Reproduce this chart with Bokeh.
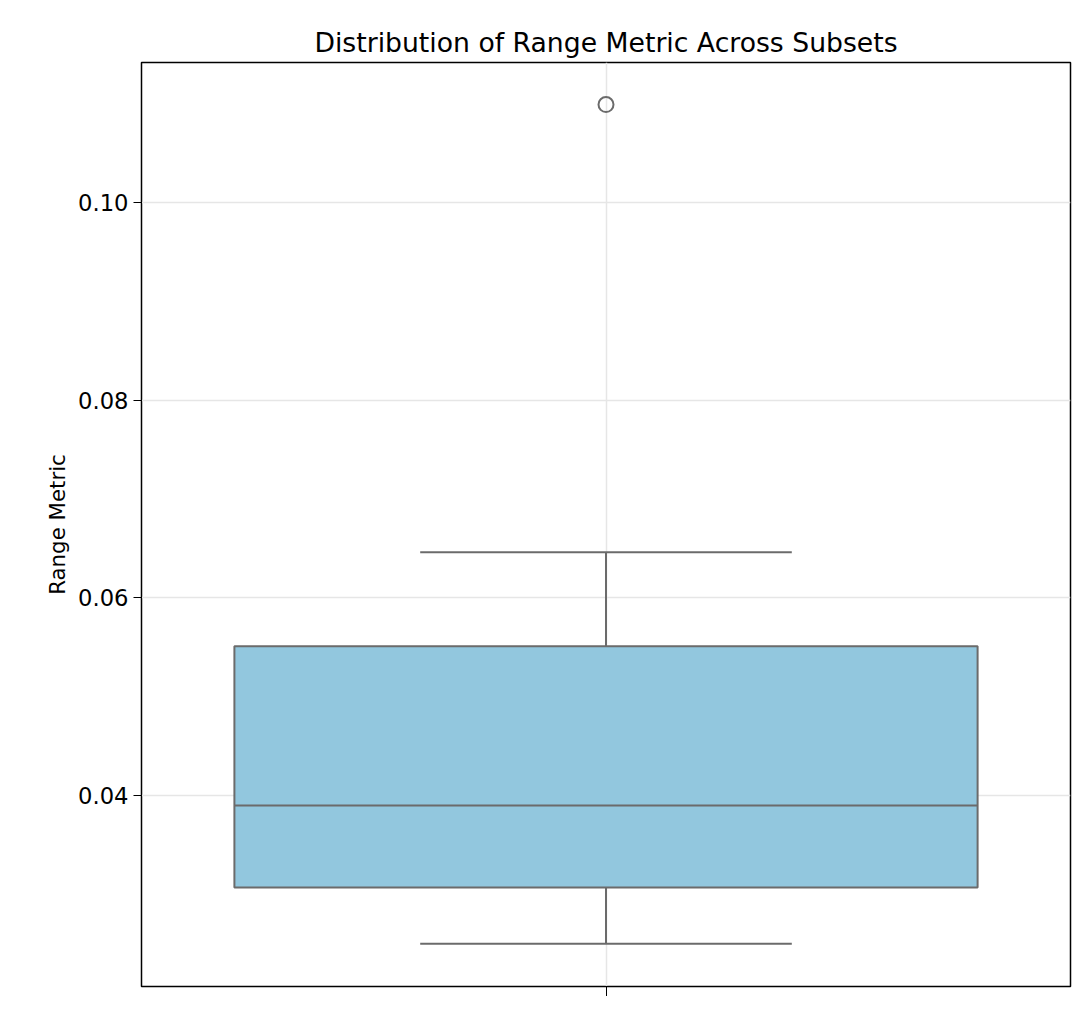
from bokeh.plotting import figure
from bokeh.embed import file_html
from bokeh.resources import INLINE
from bokeh.models import FixedTicker, Range1d

categories = [0]
q1 = [0.0307]
median = [0.0390]
q3 = [0.0551]
whisker_low = [0.0250]
whisker_high = [0.0646]
outliers = [0.1099]

p = figure(width=1083, height=996, output_backend="svg", toolbar_location=None,
           x_range=Range1d(-0.5, 0.5), y_range=Range1d(0.02068, 0.11416),
           min_border_left=141, min_border_top=62, min_border_right=13, min_border_bottom=10)
p.title.text = "Distribution of Range Metric Across Subsets"
p.title.align = "center"
p.title.text_font = "DejaVu Sans"
p.title.text_font_size = "20pt"
p.title.text_font_style = "normal"
p.title.text_color = "black"

c = categories[0]
p.segment(x0=[c]*2, y0=[whisker_low[0], q3[0]], x1=[c]*2, y1=[q1[0], whisker_high[0]], line_color="#6b6b6b", line_width=2)
p.segment(x0=[c-0.2]*2, y0=[whisker_low[0], whisker_high[0]], x1=[c+0.2]*2, y1=[whisker_low[0], whisker_high[0]], line_color="#6b6b6b", line_width=2)
p.quad(left=[c-0.4], right=[c+0.4], bottom=q1, top=q3, fill_color="#92c7de", line_color="#6b6b6b", line_width=2)
p.segment(x0=[c-0.4], y0=median, x1=[c+0.4], y1=median, line_color="#6b6b6b", line_width=2)
p.scatter(x=[c]*len(outliers), y=outliers, size=15, fill_color=None, line_color="#6b6b6b", line_width=2)

p.xaxis.ticker = FixedTicker(ticks=[0])
p.xaxis.major_label_overrides = {0: ""}
p.xaxis.major_label_text_font_size = "1pt"
p.xaxis.minor_tick_line_color = None
p.xaxis.major_tick_out = 10
p.xaxis.major_tick_in = 0
p.yaxis.ticker = FixedTicker(ticks=[0.04, 0.06, 0.08, 0.10])
p.yaxis.major_label_overrides = {0.04: "0.04", 0.06: "0.06", 0.08: "0.08", 0.10: "0.10"}
p.yaxis.minor_tick_line_color = None
p.yaxis.major_tick_out = 8
p.yaxis.major_tick_in = 0
p.yaxis.axis_label = "Range Metric"
p.yaxis.axis_label_text_font_style = "normal"
p.yaxis.axis_label_text_font_size = "16pt"
p.yaxis.axis_label_text_color = "black"
p.yaxis.major_label_text_font_size = "17pt"
for ax in (p.xaxis, p.yaxis):
    ax.axis_line_color = "black"
    ax.major_tick_line_color = "black"
    ax.major_label_text_color = "black"
    ax.major_label_text_font = "DejaVu Sans"
    ax.axis_label_text_font = "DejaVu Sans"
p.outline_line_color = "black"
p.outline_line_width = 1.5
p.grid.grid_line_color = "#e6e6e6"
p.grid.grid_line_width = 1.5

open("out.html", "w").write(file_html(p, INLINE))
